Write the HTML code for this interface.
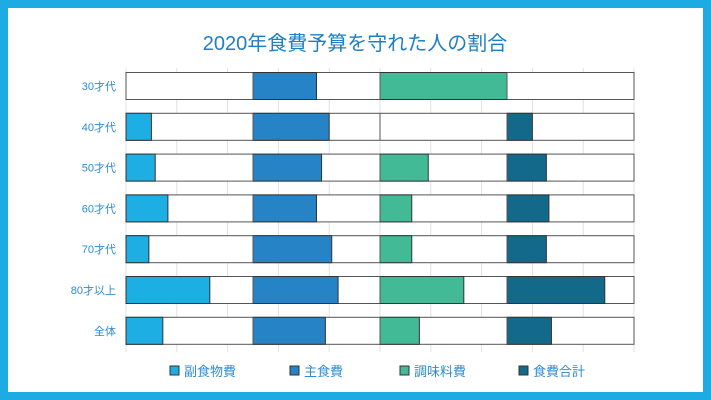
<!DOCTYPE html>
<html><head><meta charset="utf-8"><style>
html,body{margin:0;padding:0;}
body{width:711px;height:400px;overflow:hidden;background:#fff;font-family:"Liberation Sans","Noto Sans CJK JP",sans-serif;}
#frame{position:absolute;left:0;top:0;width:711px;height:400px;box-sizing:border-box;border:8px solid #1cabe2;}
</style></head><body>
<div id="frame"></div>
<svg id="chart" width="711" height="400" style="position:absolute;left:0;top:0"></svg>
<script>
const categories=["30才代","40才代","50才代","60才代","70才代","80才以上","全体"];
const seriesNames=["副食物費","主食費","調味料費","食費合計"];
const sideDish=[0,20,23,33,18,66,29];
const staple=[50,60,54,50,62,67,57];
const seasoning=[100,0,38,25,25,66,31];
const total=[0,20,31,33,31,77,35];
const colors=["#1daee3","#2683c6","#43ba96","#12698a"];
const series=[sideDish,staple,seasoning,total];
const NS="http://www.w3.org/2000/svg";
const svg=document.getElementById('chart');
function mk(t,a){const e=document.createElementNS(NS,t);for(const k in a)e.setAttribute(k,a[k]);svg.appendChild(e);return e;}
const x0=126,x1=634,panelW=(x1-x0)/4;
const rowY=i=>86+i*40.8;
const barH=27;
const xs=(p,v)=>x0+p*panelW+v/100*panelW;
// title
const t=mk('text',{x:355,y:50,'text-anchor':'middle','font-size':'20',fill:'#1f7fc4'});
t.textContent="2020年食費予算を守れた人の割合";


// gridlines
for(let g=0;g<=10;g++){const x=x0+g*(x1-x0)/10;
const l=mk('line',{x1:x,x2:x,y1:68,y2:352,stroke:'#e2e2e2','stroke-width':1});

}
categories.forEach((c,i)=>{
const y=rowY(i);
const lb=mk('text',{x:116,y:y+4,'text-anchor':'end','font-size':'11',fill:'#2e8bd0'});
lb.textContent=c;


const bg=mk('rect',{x:x0,y:y-barH/2,width:x1-x0,height:barH,fill:'#fff',stroke:'#555','stroke-width':1});


series.forEach((s,p)=>{
const v=s[i];
if(v>0){const r=mk('rect',{x:xs(p,0),y:y-barH/2,width:xs(p,v)-xs(p,0),height:barH,fill:colors[p],stroke:'#333','stroke-width':1});

}
if(p>0){const d=mk('line',{x1:xs(p,0),x2:xs(p,0),y1:y-barH/2,y2:y+barH/2,stroke:'#555','stroke-width':1});

}
});
});
const lx=[170,290,400,519];
seriesNames.forEach((n,i)=>{
const r=mk('rect',{x:lx[i],y:366,width:9,height:9,fill:colors[i],stroke:'#333','stroke-width':1});


const tx=mk('text',{x:lx[i]+14,y:376,'font-size':'13',fill:'#2e8bd0'});
tx.textContent=n;


});
</script>
</body></html>
